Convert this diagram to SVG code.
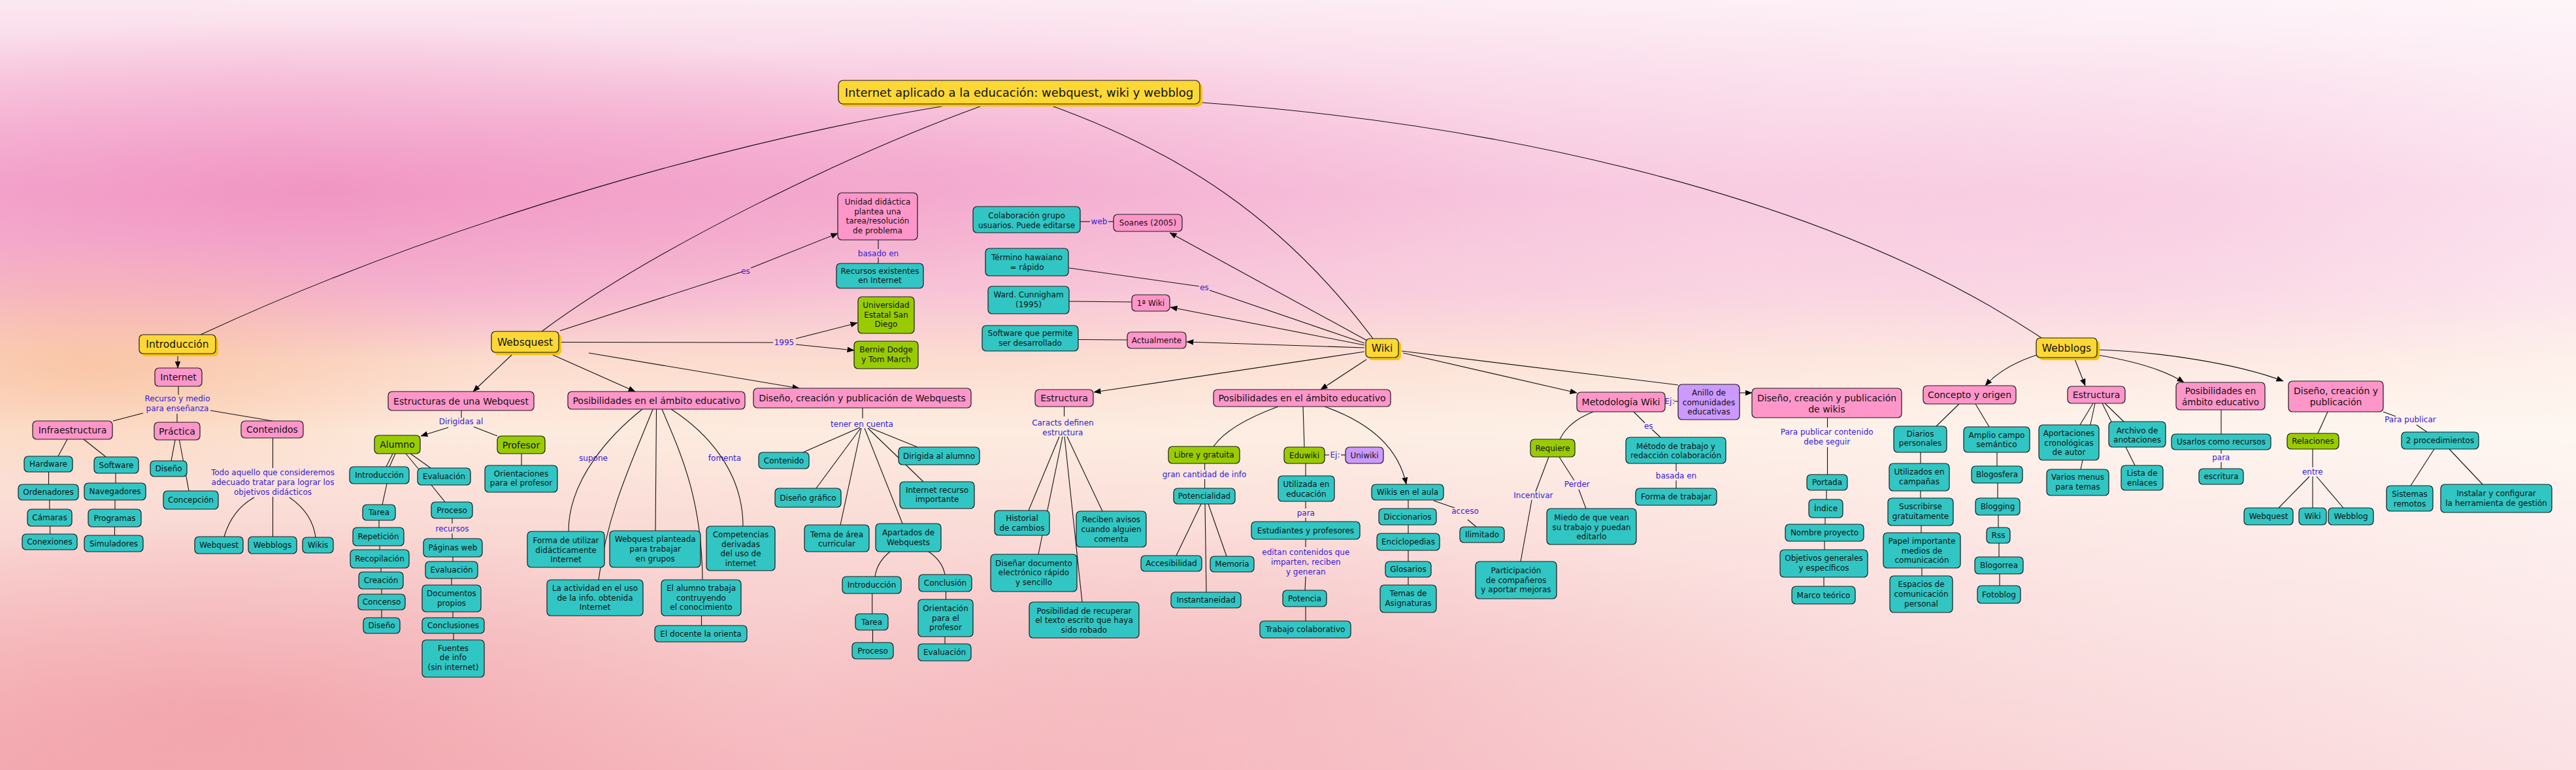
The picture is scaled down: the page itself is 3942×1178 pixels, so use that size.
<svg xmlns="http://www.w3.org/2000/svg" width="3942" height="1178" viewBox="0 0 3942 1178">
<defs>
<linearGradient id="bgv" x1="0" y1="0" x2="0" y2="1">
<stop offset="0" stop-color="#FCE8F1"/>
<stop offset="0.1" stop-color="#F9D0E3"/>
<stop offset="0.25" stop-color="#F5B2D3"/>
<stop offset="0.38" stop-color="#F7BFD3"/>
<stop offset="0.47" stop-color="#FCDACB"/>
<stop offset="0.56" stop-color="#FDEADD"/>
<stop offset="0.72" stop-color="#F9D3D0"/>
<stop offset="1" stop-color="#F5B4BA"/>
</linearGradient>
<linearGradient id="bgh" x1="0" y1="0" x2="1" y2="0">
<stop offset="0" stop-color="#FFFFFF" stop-opacity="0"/>
<stop offset="0.4" stop-color="#FFFFFF" stop-opacity="0.1"/>
<stop offset="1" stop-color="#FFFFFF" stop-opacity="0.6"/>
</linearGradient>
<radialGradient id="pk" cx="0.5" cy="0.5" r="0.5">
<stop offset="0" stop-color="#EE7DB6" stop-opacity="0.6"/>
<stop offset="1" stop-color="#EE7DB6" stop-opacity="0"/>
</radialGradient>
<radialGradient id="pc" cx="0.5" cy="0.5" r="0.5">
<stop offset="0" stop-color="#F8B88E" stop-opacity="0.6"/>
<stop offset="1" stop-color="#F8B88E" stop-opacity="0"/>
</radialGradient>
<radialGradient id="sa" cx="0.5" cy="0.5" r="0.5">
<stop offset="0" stop-color="#EF8C98" stop-opacity="0.5"/>
<stop offset="1" stop-color="#EF8C98" stop-opacity="0"/>
</radialGradient>
<marker id="ah" viewBox="0 0 10 8" refX="9.5" refY="4" markerWidth="11" markerHeight="9" markerUnits="userSpaceOnUse" orient="auto"><path d="M0,0L10,4L0,8z" fill="#000"/></marker>
</defs>
<style>
.nd rect{stroke:#1a1a1a;stroke-width:1.2}
.nd rect.sh{stroke:none;fill:#F7C400}
.y rect{fill:#FDD835}
.p rect{fill:#FF96CA}
.t rect{fill:#31C6C3}
.g rect{fill:#99CC00}
.v rect{fill:#CC99FF}
text{font-family:"DejaVu Sans",Verdana,sans-serif;text-anchor:middle;fill:#111}
.f12{font-size:12px}
.f135{font-size:13.5px}
.f14{font-size:14px}
.f155{font-size:15.5px}
.f18{font-size:18px}
.lb{font-size:12px;fill:#3320D8}
#links path{fill:none;stroke:#111;stroke-width:1.1}
#links path.a{marker-end:url(#ah)}
</style>
<rect x="0" y="0" width="3942" height="1178" fill="url(#bgv)"/>
<ellipse cx="500" cy="290" rx="1100" ry="260" fill="url(#pk)"/>
<ellipse cx="1500" cy="260" rx="900" ry="200" fill="url(#pk)" opacity="0.5"/>
<ellipse cx="3350" cy="330" rx="700" ry="280" fill="url(#pk)" opacity="0.4"/>
<ellipse cx="150" cy="560" rx="600" ry="200" fill="url(#pc)"/>
<ellipse cx="350" cy="1100" rx="900" ry="300" fill="url(#sa)"/>
<ellipse cx="2000" cy="1050" rx="900" ry="250" fill="url(#sa)" opacity="0.6"/>
<rect x="0" y="0" width="3942" height="1178" fill="url(#bgh)"/>

<g id="labels">
<text class="lb"><tspan x="271.5" y="614.3">Recurso y medio</tspan><tspan x="271.5" y="629.3">para enseñanza</tspan></text>
<text class="lb"><tspan x="417.5" y="727.3">Todo aquello que consideremos</tspan><tspan x="417.5" y="742">adecuado tratar para lograr los</tspan><tspan x="417.5" y="756.6">objetivos didácticos</tspan></text>
<text class="lb" x="1141" y="419.3">es</text>
<text class="lb" x="1200" y="528.3">1995</text>
<text class="lb" x="1344" y="392">basado en</text>
<text class="lb" x="705.5" y="649.3">Dirigidas al</text>
<text class="lb" x="692" y="813">recursos</text>
<text class="lb" x="908" y="705.3">supone</text>
<text class="lb" x="1109" y="705.3">fomenta</text>
<text class="lb" x="1319" y="652.6">tener en cuenta</text>
<text class="lb" x="1682" y="343">web</text>
<text class="lb" x="1843" y="444.3">es</text>
<text class="lb"><tspan x="1626.4" y="651.3">Caracts definen</tspan><tspan x="1626.4" y="666">estructura</tspan></text>
<text class="lb" x="1843" y="730">gran cantidad de info</text>
<text class="lb" x="2043" y="700.3">Ej:</text>
<text class="lb" x="1998.3" y="789.3">para</text>
<text class="lb"><tspan x="1998.3" y="849.3">editan contenidos que</tspan><tspan x="1998.3" y="864">imparten, reciben</tspan><tspan x="1998.3" y="878.6">y generan</tspan></text>
<text class="lb" x="2242" y="786">acceso</text>
<text class="lb" x="2555" y="618.3">Ej:</text>
<text class="lb" x="2346.4" y="761.6">Incentivar</text>
<text class="lb" x="2413.3" y="745">Perder</text>
<text class="lb" x="2522.7" y="656">es</text>
<text class="lb" x="2565" y="732">basada en</text>
<text class="lb"><tspan x="2795.7" y="665">Para publicar contenido</tspan><tspan x="2795.7" y="679.6">debe seguir</tspan></text>
<text class="lb" x="3398.8" y="704.3">para</text>
<text class="lb" x="3538.8" y="726">entre</text>
<text class="lb" x="3688.4" y="646">Para publicar</text>
</g>

<g id="links">
<path d="M1452,161 C1150,210 700,330 307,512"/>
<path d="M1505,161 C1300,235 1000,380 829,507"/>
<path d="M1604,160 C1800,230 1960,330 2101,518"/>
<path d="M1840,157 C2300,190 2800,300 3124,517"/>
<path class="a" d="M272,544 L272,563"/>
<path d="M273,591 L273,604"/>
<path d="M219,632 L173,644"/>
<path d="M271,633 L271,646"/>
<path d="M322,628 L417,644"/>
<path d="M103,672 L89,698"/>
<path d="M128,672 L162,699"/>
<path d="M74.5,722 L74.5,741"/>
<path d="M75.8,765 L75.8,779"/>
<path d="M76.6,805 L76.6,817"/>
<path d="M177,724 L177,739"/>
<path d="M176,765 L176,779"/>
<path d="M175.5,806 L175.5,819"/>
<path d="M268,673 L262,705"/>
<path d="M274.4,673 L289,751"/>
<path d="M417.5,670 L417.5,716"/>
<path d="M389,761 Q355,780 343,821"/>
<path d="M417.5,760 L417.5,821"/>
<path d="M443,761 Q478,785 483,822"/>
<path d="M857,506 L1135,416"/>
<path class="a" d="M1149,410 L1282,357"/>
<path d="M855,523.5 L1183,524"/>
<path class="a" d="M1218,518 L1312,494"/>
<path class="a" d="M1218,527 L1307,536"/>
<path d="M1344,367 L1344,381"/>
<path d="M1344,394 L1344,403"/>
<path class="a" d="M783,543 L724,599"/>
<path class="a" d="M846,543 L972,599"/>
<path class="a" d="M901,540 L1223,594"/>
<path d="M706,628 L706,639"/>
<path class="a" d="M686,654 L644,667"/>
<path d="M725,653 L761,667"/>
<path d="M798,694 L798,712"/>
<path d="M601,694 L591,714"/>
<path d="M605,694 L596,714"/>
<path d="M621,694 L640,717"/>
<path d="M628,694 L659,716"/>
<path d="M660,742 L681,768"/>
<path d="M592,740 L585,772"/>
<path d="M580,796 L580,807"/>
<path d="M581,835 L581,841"/>
<path d="M583,869 L583,875"/>
<path d="M584,901 L584,909"/>
<path d="M584,933 L584,945"/>
<path d="M692,793 L692,801"/>
<path d="M692,816 L692,824"/>
<path d="M693,852 L693,859"/>
<path d="M691,885 L691,895"/>
<path d="M693,936 L693,945"/>
<path d="M694,969 L694,979"/>
<path d="M983,626 C940,660 870,730 870,813"/>
<path d="M999,626 C970,700 930,780 916,887"/>
<path d="M1004.5,626 L1003,812"/>
<path d="M1013,626 C1040,690 1074,760 1075,887"/>
<path d="M1027,626 C1080,660 1137,720 1137,805"/>
<path d="M1073.5,942 L1073.5,957"/>
<path d="M1320,624 L1320,640"/>
<path d="M1316,654 L1229,692"/>
<path d="M1317,655 L1249,747"/>
<path d="M1318,655 L1286,803"/>
<path d="M1323,655 L1381,801"/>
<path d="M1330,654 L1404,684"/>
<path d="M1328,655 L1413,737"/>
<path d="M1362,844 Q1342,860 1339,882"/>
<path d="M1421,844 Q1442,858 1446,879"/>
<path d="M1334.7,908 L1334.7,939"/>
<path d="M1335.5,964 L1335.5,983"/>
<path d="M1447.5,905 L1447.5,917"/>
<path d="M1446,974 L1446,985"/>
<path d="M1653,339 L1668,339"/>
<path d="M1696,339 L1704,339"/>
<path class="a" d="M2092,521 L1790,356"/>
<path d="M2088,525 L1851,444"/>
<path d="M1835,438 L1636,410"/>
<path class="a" d="M2088,528 L1791,470"/>
<path d="M1636,461 L1732,462"/>
<path class="a" d="M2088,532 L1816,523"/>
<path d="M1650,519.5 L1725,520"/>
<path class="a" d="M2088,538 L1674,600"/>
<path class="a" d="M2091,550 L2021,596"/>
<path class="a" d="M2147,540 L2413,601"/>
<path d="M2145,537 L2568,589"/>
<path d="M1628.5,622 L1628.5,637"/>
<path d="M1621,668 L1574,781"/>
<path d="M1626,668 L1589,848"/>
<path d="M1629,668 L1656,921"/>
<path d="M1633,668 L1687,782"/>
<path d="M1956,622 Q1880,650 1857,683"/>
<path d="M1843.6,709 L1843.6,719"/>
<path d="M1843.6,733 L1843.6,747"/>
<path d="M1838,771 L1800,850"/>
<path d="M1844,771 L1846,906"/>
<path d="M1849,771 L1877,851"/>
<path d="M1994,622 L1996,684"/>
<path d="M2027,696 L2034,696"/>
<path d="M2052,696 L2059,696"/>
<path d="M1998,709 L1998,728"/>
<path d="M1998,767 L1998,778"/>
<path d="M1998,792 L1998,798"/>
<path d="M1998,825 L1998,837"/>
<path d="M1998,882 L1997,903"/>
<path d="M1998,928 L1998,950"/>
<path class="a" d="M2027,622 Q2135,660 2152,741"/>
<path d="M2155,765 L2155,778"/>
<path d="M2155,803 L2155,816"/>
<path d="M2155,842 L2155,859"/>
<path d="M2155,883 L2155,895"/>
<path d="M2194,766 L2226,777"/>
<path d="M2246,795 L2259,806"/>
<path d="M2562,614 L2568,614"/>
<path class="a" d="M2662,601 L2681,601"/>
<path d="M2438,630 Q2400,645 2387,672"/>
<path d="M2370,699 L2350,752"/>
<path d="M2344,765 L2327,859"/>
<path d="M2386,699 L2409,735"/>
<path d="M2416,749 L2427,778"/>
<path d="M2500,630 L2517,647"/>
<path d="M2528,657 L2541,669"/>
<path d="M2565,709 L2565,721"/>
<path d="M2565,735 L2565,747"/>
<path d="M2796.5,639 L2796.5,654"/>
<path d="M2796.5,684 L2796.5,726"/>
<path d="M2795,750 L2795,764"/>
<path d="M2793,792 L2793,802"/>
<path d="M2792,828 L2792,841"/>
<path d="M2791,883 L2791,897"/>
<path class="a" d="M3117,543 Q3065,560 3038,590"/>
<path class="a" d="M3174,547 L3191,590"/>
<path class="a" d="M3209,543 Q3300,558 3342,585"/>
<path class="a" d="M3209,535 C3300,538 3420,555 3494,583"/>
<path d="M2998,618 L2963,652"/>
<path d="M3023,618 L3044,653"/>
<path d="M2939,692 L2939,709"/>
<path d="M2939,751 L2939,762"/>
<path d="M2940,804 L2940,815"/>
<path d="M2941,869 L2941,881"/>
<path d="M3056,692 L3056,713"/>
<path d="M3057,739 L3057,762"/>
<path d="M3058,788 L3058,807"/>
<path d="M3059,831 L3059,852"/>
<path d="M3060,878 L3060,896"/>
<path d="M3203,617 L3183,650"/>
<path d="M3206,617 L3184,718"/>
<path d="M3217,617 L3231,645"/>
<path d="M3221,617 L3250,645"/>
<path d="M3253,684 L3267,712"/>
<path d="M3399,627 L3399,664"/>
<path d="M3399,688 L3399,694"/>
<path d="M3399,707 L3399,717"/>
<path d="M3562,630 L3547,663"/>
<path d="M3539,687 L3539,715"/>
<path d="M3534,729 L3487,777"/>
<path d="M3539,729 L3539,777"/>
<path d="M3545,729 L3586,777"/>
<path d="M3647,630 L3666,637"/>
<path d="M3698,650 L3714,661"/>
<path d="M3725,687 L3689,743"/>
<path d="M3748,687 L3799,741"/>
</g>

<g id="n-title" class="nd y"><rect class="sh" x="1287" y="127" width="553" height="36" rx="7"/><rect x="1283" y="123" width="553" height="36" rx="7"/><text class="f18" x="1559.5" y="147.5">Internet aplicado a la educación: webquest, wiki y webblog</text></g>
<g id="n-intro" class="nd y"><rect class="sh" x="217" y="516" width="117" height="29" rx="6"/><rect x="213" y="512" width="117" height="29" rx="6"/><text class="f155" x="271.5" y="532">Introducción</text></g>
<g id="n-websquest" class="nd y"><rect class="sh" x="756" y="511" width="103" height="32" rx="6"/><rect x="752" y="507" width="103" height="32" rx="6"/><text class="f155" x="803.5" y="528.5">Websquest</text></g>
<g id="n-wiki" class="nd y"><rect class="sh" x="2094" y="522" width="50" height="29" rx="6"/><rect x="2090" y="518" width="50" height="29" rx="6"/><text class="f155" x="2115" y="538">Wiki</text></g>
<g id="n-webblogs" class="nd y"><rect class="sh" x="3120" y="521" width="93" height="30" rx="6"/><rect x="3116" y="517" width="93" height="30" rx="6"/><text class="f155" x="3162.5" y="537.5">Webblogs</text></g>

<g id="n-internet" class="nd p"><rect x="237" y="563" width="72" height="28" rx="6"/><text class="f14" x="273" y="582">Internet</text></g>
<g id="n-infra" class="nd p"><rect x="50" y="644" width="122" height="28" rx="6"/><text class="f14" x="111" y="663">Infraestructura</text></g>
<g id="n-practica" class="nd p"><rect x="236" y="646" width="70" height="27" rx="6"/><text class="f14" x="271" y="664.5">Práctica</text></g>
<g id="n-contenidos" class="nd p"><rect x="369" y="644" width="95" height="26" rx="6"/><text class="f14" x="416.5" y="662">Contenidos</text></g>
<g id="n-hardware" class="nd t"><rect x="37" y="698" width="74" height="24" rx="6"/><text class="f12" x="74" y="714.3">Hardware</text></g>
<g id="n-software" class="nd t"><rect x="144" y="699" width="68" height="25" rx="6"/><text class="f12" x="178" y="715.8">Software</text></g>
<g id="n-ordenadores" class="nd t"><rect x="28" y="741" width="92" height="24" rx="6"/><text class="f12" x="74" y="757.3">Ordenadores</text></g>
<g id="n-navegadores" class="nd t"><rect x="129" y="739" width="94" height="26" rx="6"/><text class="f12" x="176" y="756.3">Navegadores</text></g>
<g id="n-camaras" class="nd t"><rect x="42" y="779" width="68" height="26" rx="6"/><text class="f12" x="76" y="796.3">Cámaras</text></g>
<g id="n-programas" class="nd t"><rect x="135" y="779" width="81" height="27" rx="6"/><text class="f12" x="175.5" y="796.8">Programas</text></g>
<g id="n-conexiones" class="nd t"><rect x="34" y="817" width="84" height="24" rx="6"/><text class="f12" x="76" y="833.3">Conexiones</text></g>
<g id="n-simuladores" class="nd t"><rect x="129" y="819" width="90" height="25" rx="6"/><text class="f12" x="174" y="835.8">Simuladores</text></g>
<g id="n-diseno1" class="nd t"><rect x="230" y="705" width="56" height="24" rx="6"/><text class="f12" x="258" y="721.3">Diseño</text></g>
<g id="n-concepcion" class="nd t"><rect x="250" y="751" width="84" height="28" rx="6"/><text class="f12" x="292" y="769.3">Concepción</text></g>
<g id="n-webquest1" class="nd t"><rect x="298" y="821" width="74" height="26" rx="6"/><text class="f12" x="335" y="838.3">Webquest</text></g>
<g id="n-webblogs1" class="nd t"><rect x="380" y="821" width="74" height="26" rx="6"/><text class="f12" x="417" y="838.3">Webblogs</text></g>
<g id="n-wikis1" class="nd t"><rect x="463" y="822" width="47" height="24" rx="6"/><text class="f12" x="486.5" y="838.3">Wikis</text></g>

<g id="n-unidad" class="nd p"><rect x="1282" y="295" width="122" height="72" rx="6"/><text class="f12"><tspan x="1343" y="313">Unidad didáctica</tspan><tspan x="1343" y="327.6">plantea una</tspan><tspan x="1343" y="342">tarea/resolución</tspan><tspan x="1343" y="356.6">de problema</tspan></text></g>
<g id="n-recursos" class="nd t"><rect x="1280" y="403" width="133" height="38" rx="6"/><text class="f12"><tspan x="1346.5" y="418.6">Recursos existentes</tspan><tspan x="1346.5" y="433.3">en Internet</tspan></text></g>
<g id="n-universidad" class="nd g"><rect x="1313" y="454" width="86" height="56" rx="6"/><text class="f12"><tspan x="1356" y="471">Universidad</tspan><tspan x="1356" y="485.6">Estatal San</tspan><tspan x="1356" y="500.3">Diego</tspan></text></g>
<g id="n-bernie" class="nd g"><rect x="1307" y="522" width="98" height="42" rx="6"/><text class="f12"><tspan x="1356" y="539.3">Bernie Dodge</tspan><tspan x="1356" y="554">y Tom March</tspan></text></g>
<g id="n-estructuras" class="nd p"><rect x="594" y="599" width="223" height="29" rx="6"/><text class="f14" x="705.5" y="618.5">Estructuras de una Webquest</text></g>
<g id="n-alumno" class="nd g"><rect x="573" y="666" width="70" height="28" rx="6"/><text class="f14" x="608" y="685">Alumno</text></g>
<g id="n-profesor" class="nd g"><rect x="761" y="667" width="73" height="27" rx="6"/><text class="f14" x="797.5" y="685.5">Profesor</text></g>
<g id="n-orientaciones" class="nd t"><rect x="742" y="712" width="111" height="41" rx="6"/><text class="f12"><tspan x="797.5" y="728.6">Orientaciones</tspan><tspan x="797.5" y="743.3">para el profesor</tspan></text></g>
<g id="n-intro2" class="nd t"><rect x="535" y="714" width="91" height="26" rx="6"/><text class="f12" x="580.5" y="731.3">Introducción</text></g>
<g id="n-evaluacion1" class="nd t"><rect x="639" y="716" width="81" height="26" rx="6"/><text class="f12" x="679.5" y="733.3">Evaluación</text></g>
<g id="n-tarea1" class="nd t"><rect x="555" y="772" width="50" height="24" rx="6"/><text class="f12" x="580" y="788.3">Tarea</text></g>
<g id="n-repeticion" class="nd t"><rect x="540" y="807" width="78" height="28" rx="6"/><text class="f12" x="579" y="825.3">Repetición</text></g>
<g id="n-recopilacion" class="nd t"><rect x="536" y="841" width="90" height="28" rx="6"/><text class="f12" x="581" y="859.3">Recopilación</text></g>
<g id="n-creacion" class="nd t"><rect x="549" y="875" width="68" height="26" rx="6"/><text class="f12" x="583" y="892.3">Creación</text></g>
<g id="n-concenso" class="nd t"><rect x="548" y="909" width="72" height="24" rx="6"/><text class="f12" x="584" y="925.3">Concenso</text></g>
<g id="n-diseno2" class="nd t"><rect x="556" y="945" width="56" height="24" rx="6"/><text class="f12" x="584" y="961.3">Diseño</text></g>
<g id="n-proceso1" class="nd t"><rect x="660" y="768" width="63" height="25" rx="6"/><text class="f12" x="691.5" y="784.8">Proceso</text></g>
<g id="n-paginas" class="nd t"><rect x="648" y="824" width="90" height="28" rx="6"/><text class="f12" x="693" y="842.3">Páginas web</text></g>
<g id="n-evaluacion2" class="nd t"><rect x="651" y="859" width="80" height="26" rx="6"/><text class="f12" x="691" y="876.3">Evaluación</text></g>
<g id="n-documentos" class="nd t"><rect x="646" y="895" width="90" height="41" rx="6"/><text class="f12"><tspan x="691" y="912">Documentos</tspan><tspan x="691" y="926.6">propios</tspan></text></g>
<g id="n-conclusiones" class="nd t"><rect x="646" y="945" width="95" height="24" rx="6"/><text class="f12" x="693.5" y="961.3">Conclusiones</text></g>
<g id="n-fuentes" class="nd t"><rect x="646" y="979" width="95" height="57" rx="6"/><text class="f12"><tspan x="693.5" y="996">Fuentes</tspan><tspan x="693.5" y="1010.3">de info</tspan><tspan x="693.5" y="1024.6">(sin internet)</tspan></text></g>

<g id="n-posib1" class="nd p"><rect x="869" y="599" width="271" height="27" rx="6"/><text class="f14" x="1004.5" y="617.5">Posibilidades en el ámbito educativo</text></g>
<g id="n-forma" class="nd t"><rect x="807" y="813" width="118" height="55" rx="6"/><text class="f12"><tspan x="866" y="831">Forma de utilizar</tspan><tspan x="866" y="845.6">didácticamente</tspan><tspan x="866" y="860">Internet</tspan></text></g>
<g id="n-planteada" class="nd t"><rect x="933" y="812" width="139" height="56" rx="6"/><text class="f12"><tspan x="1002.7" y="829.3">Webquest planteada</tspan><tspan x="1002.7" y="844">para trabajar</tspan><tspan x="1002.7" y="858.6">en grupos</tspan></text></g>
<g id="n-competencias" class="nd t"><rect x="1081" y="805" width="105" height="68" rx="6"/><text class="f12"><tspan x="1133.5" y="822">Competencias</tspan><tspan x="1133.5" y="836.6">derivadas</tspan><tspan x="1133.5" y="851">del uso de</tspan><tspan x="1133.5" y="865.6">internet</tspan></text></g>
<g id="n-actividad" class="nd t"><rect x="837" y="887" width="147" height="55" rx="6"/><text class="f12"><tspan x="910.5" y="904.3">La actividad en el uso</tspan><tspan x="910.5" y="919">de la info. obtenida</tspan><tspan x="910.5" y="933.3">Internet</tspan></text></g>
<g id="n-alumnotrab" class="nd t"><rect x="1012" y="887" width="122" height="55" rx="6"/><text class="f12"><tspan x="1073" y="904.3">El alumno trabaja</tspan><tspan x="1073" y="919">contruyendo</tspan><tspan x="1073" y="933.3">el conocimiento</tspan></text></g>
<g id="n-docente" class="nd t"><rect x="1002" y="957" width="141" height="25" rx="6"/><text class="f12" x="1072.5" y="973.8">El docente la orienta</text></g>

<g id="n-disenowq" class="nd p"><rect x="1153" y="594" width="333" height="30" rx="6"/><text class="f14" x="1319.5" y="614">Diseño, creación y publicación de Webquests</text></g>
<g id="n-contenido" class="nd t"><rect x="1161" y="692" width="77" height="25" rx="6"/><text class="f12" x="1199.5" y="708.8">Contenido</text></g>
<g id="n-disgraf" class="nd t"><rect x="1186" y="747" width="101" height="29" rx="6"/><text class="f12" x="1236.5" y="765.8">Diseño gráfico</text></g>
<g id="n-tema" class="nd t"><rect x="1231" y="803" width="99" height="41" rx="6"/><text class="f12"><tspan x="1280.5" y="821.6">Tema de área</tspan><tspan x="1280.5" y="836.3">curricular</tspan></text></g>
<g id="n-dirigida" class="nd t"><rect x="1375" y="684" width="124" height="27" rx="6"/><text class="f12" x="1437" y="701.8">Dirigida al alumno</text></g>
<g id="n-internetrec" class="nd t"><rect x="1377" y="737" width="114" height="41" rx="6"/><text class="f12"><tspan x="1434" y="754">Internet recurso</tspan><tspan x="1434" y="768.3">importante</tspan></text></g>
<g id="n-apartados" class="nd t"><rect x="1340" y="801" width="100" height="43" rx="6"/><text class="f12"><tspan x="1390" y="819.3">Apartados de</tspan><tspan x="1390" y="834">Webquests</tspan></text></g>
<g id="n-intro3" class="nd t"><rect x="1289" y="882" width="90" height="26" rx="6"/><text class="f12" x="1334" y="899.3">Introducción</text></g>
<g id="n-conclusion" class="nd t"><rect x="1406" y="879" width="81" height="26" rx="6"/><text class="f12" x="1446.5" y="896.3">Conclusión</text></g>
<g id="n-tarea2" class="nd t"><rect x="1309" y="939" width="50" height="25" rx="6"/><text class="f12" x="1334" y="955.8">Tarea</text></g>
<g id="n-proceso2" class="nd t"><rect x="1304" y="983" width="63" height="25" rx="6"/><text class="f12" x="1335.5" y="999.8">Proceso</text></g>
<g id="n-orientacion" class="nd t"><rect x="1405" y="917" width="84" height="57" rx="6"/><text class="f12"><tspan x="1447" y="935">Orientación</tspan><tspan x="1447" y="949.6">para el</tspan><tspan x="1447" y="964">profesor</tspan></text></g>
<g id="n-evaluacion3" class="nd t"><rect x="1405" y="985" width="81" height="26" rx="6"/><text class="f12" x="1445.5" y="1002.3">Evaluación</text></g>

<g id="n-colab" class="nd t"><rect x="1489" y="316" width="164" height="40" rx="6"/><text class="f12"><tspan x="1571" y="334.3">Colaboración grupo</tspan><tspan x="1571" y="348.6">usuarios. Puede editarse</tspan></text></g>
<g id="n-soanes" class="nd p"><rect x="1704" y="328" width="105" height="26" rx="6"/><text class="f12" x="1756.5" y="345.3">Soanes (2005)</text></g>
<g id="n-termino" class="nd t"><rect x="1508" y="380" width="127" height="42" rx="6"/><text class="f12"><tspan x="1571.5" y="398.3">Término hawaiano</tspan><tspan x="1571.5" y="412.6">= rápido</tspan></text></g>
<g id="n-ward" class="nd t"><rect x="1512" y="438" width="124" height="42" rx="6"/><text class="f12"><tspan x="1574" y="455.3">Ward. Cunnigham</tspan><tspan x="1574" y="470">(1995)</tspan></text></g>
<g id="n-primera" class="nd p"><rect x="1732" y="451" width="58" height="25" rx="6"/><text class="f12" x="1761" y="467.8">1ª Wiki</text></g>
<g id="n-software2" class="nd t"><rect x="1503" y="498" width="147" height="39" rx="6"/><text class="f12"><tspan x="1576.5" y="514">Software que permite</tspan><tspan x="1576.5" y="528.6">ser desarrollado</tspan></text></g>
<g id="n-actualmente" class="nd p"><rect x="1725" y="508" width="90" height="25" rx="6"/><text class="f12" x="1770" y="524.8">Actualmente</text></g>

<g id="n-estructura2" class="nd p"><rect x="1584" y="596" width="89" height="26" rx="6"/><text class="f14" x="1628.5" y="614">Estructura</text></g>
<g id="n-historial" class="nd t"><rect x="1522" y="781" width="84" height="38" rx="6"/><text class="f12"><tspan x="1564" y="797.3">Historial</tspan><tspan x="1564" y="812">de cambios</tspan></text></g>
<g id="n-reciben" class="nd t"><rect x="1647" y="782" width="107" height="55" rx="6"/><text class="f12"><tspan x="1700.5" y="799.3">Reciben avisos</tspan><tspan x="1700.5" y="814">cuando alguien</tspan><tspan x="1700.5" y="828.6">comenta</tspan></text></g>
<g id="n-disenar" class="nd t"><rect x="1516" y="848" width="132" height="57" rx="6"/><text class="f12"><tspan x="1582" y="865.6">Diseñar documento</tspan><tspan x="1582" y="880.3">electrónico rápido</tspan><tspan x="1582" y="894.6">y sencillo</tspan></text></g>
<g id="n-posibilidad" class="nd t"><rect x="1575" y="921" width="168" height="55" rx="6"/><text class="f12"><tspan x="1659" y="938.6">Posibilidad de recuperar</tspan><tspan x="1659" y="953">el texto escrito que haya</tspan><tspan x="1659" y="967.6">sido robado</tspan></text></g>

<g id="n-posib2" class="nd p"><rect x="1857" y="596" width="271" height="26" rx="6"/><text class="f14" x="1992.5" y="614">Posibilidades en el ámbito educativo</text></g>
<g id="n-libre" class="nd g"><rect x="1788" y="683" width="109" height="26" rx="6"/><text class="f12" x="1842.5" y="700.3">Libre y gratuita</text></g>
<g id="n-potencialidad" class="nd t"><rect x="1796" y="747" width="94" height="24" rx="6"/><text class="f12" x="1843" y="763.3">Potencialidad</text></g>
<g id="n-accesibilidad" class="nd t"><rect x="1746" y="850" width="93" height="24" rx="6"/><text class="f12" x="1792.5" y="866.3">Accesibilidad</text></g>
<g id="n-memoria" class="nd t"><rect x="1852" y="851" width="67" height="24" rx="6"/><text class="f12" x="1885.5" y="867.3">Memoria</text></g>
<g id="n-instant" class="nd t"><rect x="1792" y="906" width="107" height="24" rx="6"/><text class="f12" x="1845.5" y="922.3">Instantaneidad</text></g>
<g id="n-eduwiki" class="nd g"><rect x="1965" y="684" width="62" height="25" rx="6"/><text class="f12" x="1996" y="700.8">Eduwiki</text></g>
<g id="n-uniwiki" class="nd v"><rect x="2059" y="684" width="58" height="25" rx="6"/><text class="f12" x="2088" y="700.8">Uniwiki</text></g>
<g id="n-utilizada" class="nd t"><rect x="1956" y="728" width="86" height="39" rx="6"/><text class="f12"><tspan x="1999" y="745.3">Utilizada en</tspan><tspan x="1999" y="760">educación</tspan></text></g>
<g id="n-estudiantes" class="nd t"><rect x="1915" y="798" width="166" height="27" rx="6"/><text class="f12" x="1998" y="815.8">Estudiantes y profesores</text></g>
<g id="n-potencia" class="nd t"><rect x="1963" y="903" width="67" height="25" rx="6"/><text class="f12" x="1996.5" y="919.8">Potencia</text></g>
<g id="n-trabajo" class="nd t"><rect x="1928" y="950" width="139" height="26" rx="6"/><text class="f12" x="1997.5" y="967.3">Trabajo colaborativo</text></g>
<g id="n-wikisaula" class="nd t"><rect x="2099" y="741" width="110" height="24" rx="6"/><text class="f12" x="2154" y="757.3">Wikis en el aula</text></g>
<g id="n-diccionarios" class="nd t"><rect x="2110" y="778" width="88" height="25" rx="6"/><text class="f12" x="2154" y="794.8">Diccionarios</text></g>
<g id="n-enciclopedias" class="nd t"><rect x="2107" y="816" width="96" height="26" rx="6"/><text class="f12" x="2155" y="833.3">Enciclopedias</text></g>
<g id="n-glosarios" class="nd t"><rect x="2120" y="859" width="70" height="24" rx="6"/><text class="f12" x="2155" y="875.3">Glosarios</text></g>
<g id="n-temas" class="nd t"><rect x="2112" y="895" width="86" height="42" rx="6"/><text class="f12"><tspan x="2155" y="912">Temas de</tspan><tspan x="2155" y="926.6">Asignaturas</tspan></text></g>
<g id="n-ilimitado" class="nd t"><rect x="2234" y="806" width="68" height="24" rx="6"/><text class="f12" x="2268" y="822.3">Ilimitado</text></g>

<g id="n-metod" class="nd p"><rect x="2413" y="600" width="135" height="30" rx="6"/><text class="f14" x="2480.5" y="620">Metodología Wiki</text></g>
<g id="n-anillo" class="nd v"><rect x="2568" y="588" width="94" height="54" rx="6"/><text class="f12"><tspan x="2615" y="605.3">Anillo de</tspan><tspan x="2615" y="620">comunidades</tspan><tspan x="2615" y="634.3">educativas</tspan></text></g>
<g id="n-disenowiki" class="nd p"><rect x="2681" y="594" width="229" height="45" rx="6"/><text class="f14"><tspan x="2795.5" y="614.3">Diseño, creación y publicación</tspan><tspan x="2795.5" y="631">de wikis</tspan></text></g>
<g id="n-requiere" class="nd g"><rect x="2342" y="672" width="68" height="27" rx="6"/><text class="f12" x="2376" y="689.8">Requiere</text></g>
<g id="n-participacion" class="nd t"><rect x="2258" y="859" width="124" height="57" rx="6"/><text class="f12"><tspan x="2320" y="877">Participación</tspan><tspan x="2320" y="891.6">de compañeros</tspan><tspan x="2320" y="906.3">y aportar mejoras</tspan></text></g>
<g id="n-miedo" class="nd t"><rect x="2367" y="778" width="137" height="55" rx="6"/><text class="f12"><tspan x="2435.5" y="796">Miedo de que vean</tspan><tspan x="2435.5" y="810.6">su trabajo y puedan</tspan><tspan x="2435.5" y="825.3">editarlo</tspan></text></g>
<g id="n-metodo" class="nd t"><rect x="2488" y="669" width="153" height="40" rx="6"/><text class="f12"><tspan x="2564.5" y="687">Método de trabajo y</tspan><tspan x="2564.5" y="701.3">redacción colaboración</tspan></text></g>
<g id="n-forma2" class="nd t"><rect x="2503" y="747" width="124" height="26" rx="6"/><text class="f12" x="2565" y="764.3">Forma de trabajar</text></g>
<g id="n-portada" class="nd t"><rect x="2765" y="726" width="62" height="24" rx="6"/><text class="f12" x="2796" y="742.3">Portada</text></g>
<g id="n-indice" class="nd t"><rect x="2768" y="764" width="52" height="28" rx="6"/><text class="f12" x="2794" y="782.3">Índice</text></g>
<g id="n-nombre" class="nd t"><rect x="2732" y="802" width="120" height="26" rx="6"/><text class="f12" x="2792" y="819.3">Nombre proyecto</text></g>
<g id="n-objetivos" class="nd t"><rect x="2724" y="841" width="134" height="42" rx="6"/><text class="f12"><tspan x="2791" y="858.3">Objetivos generales</tspan><tspan x="2791" y="873">y específicos</tspan></text></g>
<g id="n-marco" class="nd t"><rect x="2742" y="897" width="97" height="27" rx="6"/><text class="f12" x="2790.5" y="914.8">Marco teórico</text></g>

<g id="n-concepto" class="nd p"><rect x="2943" y="590" width="142" height="28" rx="6"/><text class="f14" x="3014" y="609">Concepto y origen</text></g>
<g id="n-diarios" class="nd t"><rect x="2898" y="652" width="81" height="40" rx="6"/><text class="f12"><tspan x="2938.5" y="668">Diarios</tspan><tspan x="2938.5" y="682.3">personales</tspan></text></g>
<g id="n-utilizados" class="nd t"><rect x="2891" y="709" width="92" height="42" rx="6"/><text class="f12"><tspan x="2937" y="726.3">Utilizados en</tspan><tspan x="2937" y="741">campañas</tspan></text></g>
<g id="n-suscribirse" class="nd t"><rect x="2889" y="762" width="100" height="42" rx="6"/><text class="f12"><tspan x="2939" y="779.3">Suscribirse</tspan><tspan x="2939" y="793.6">gratuitamente</tspan></text></g>
<g id="n-papel" class="nd t"><rect x="2882" y="815" width="118" height="54" rx="6"/><text class="f12"><tspan x="2941" y="832">Papel importante</tspan><tspan x="2941" y="846.6">medios de</tspan><tspan x="2941" y="861.3">comunicación</tspan></text></g>
<g id="n-espacios" class="nd t"><rect x="2892" y="881" width="96" height="56" rx="6"/><text class="f12"><tspan x="2940" y="898.3">Espacios de</tspan><tspan x="2940" y="913">comunicación</tspan><tspan x="2940" y="927.6">personal</tspan></text></g>
<g id="n-amplio" class="nd t"><rect x="3005" y="653" width="101" height="39" rx="6"/><text class="f12"><tspan x="3055.5" y="669.6">Amplio campo</tspan><tspan x="3055.5" y="684">semántico</tspan></text></g>
<g id="n-blogosfera" class="nd t"><rect x="3017" y="713" width="78" height="26" rx="6"/><text class="f12" x="3056" y="730.3">Blogosfera</text></g>
<g id="n-blogging" class="nd t"><rect x="3023" y="762" width="68" height="26" rx="6"/><text class="f12" x="3057" y="779.3">Blogging</text></g>
<g id="n-rss" class="nd t"><rect x="3040" y="807" width="36" height="24" rx="6"/><text class="f12" x="3058" y="823.3">Rss</text></g>
<g id="n-blogorrea" class="nd t"><rect x="3022" y="852" width="74" height="26" rx="6"/><text class="f12" x="3059" y="869.3">Blogorrea</text></g>
<g id="n-fotoblog" class="nd t"><rect x="3026" y="896" width="66" height="27" rx="6"/><text class="f12" x="3059" y="913.8">Fotoblog</text></g>

<g id="n-estructura3" class="nd p"><rect x="3164" y="591" width="88" height="26" rx="6"/><text class="f14" x="3208" y="609">Estructura</text></g>
<g id="n-aportaciones" class="nd t"><rect x="3120" y="650" width="92" height="54" rx="6"/><text class="f12"><tspan x="3166" y="667">Aportaciones</tspan><tspan x="3166" y="681.6">cronológicas</tspan><tspan x="3166" y="696">de autor</tspan></text></g>
<g id="n-varios" class="nd t"><rect x="3132" y="718" width="95" height="40" rx="6"/><text class="f12"><tspan x="3179.5" y="734.3">Varios menus</tspan><tspan x="3179.5" y="748.6">para temas</tspan></text></g>
<g id="n-archivo" class="nd t"><rect x="3227" y="645" width="87" height="39" rx="6"/><text class="f12"><tspan x="3270.5" y="662.6">Archivo de</tspan><tspan x="3270.5" y="677">anotaciones</tspan></text></g>
<g id="n-lista" class="nd t"><rect x="3246" y="712" width="64" height="38" rx="6"/><text class="f12"><tspan x="3278" y="728.3">Lista de</tspan><tspan x="3278" y="743">enlaces</tspan></text></g>

<g id="n-posib3" class="nd p"><rect x="3330" y="585" width="136" height="42" rx="6"/><text class="f135"><tspan x="3398" y="603">Posibilidades en</tspan><tspan x="3398" y="619.7">ámbito educativo</tspan></text></g>
<g id="n-usarlos" class="nd t"><rect x="3323" y="664" width="152" height="24" rx="6"/><text class="f12" x="3399" y="680.3">Usarlos como recursos</text></g>
<g id="n-escritura" class="nd t"><rect x="3365" y="717" width="68" height="24" rx="6"/><text class="f12" x="3399" y="733.3">escritura</text></g>
<g id="n-diseno3" class="nd p"><rect x="3502" y="583" width="145" height="47" rx="6"/><text class="f14"><tspan x="3574.5" y="603.3">Diseño, creación y</tspan><tspan x="3574.5" y="620">publicación</tspan></text></g>
<g id="n-relaciones" class="nd g"><rect x="3500" y="663" width="79" height="24" rx="6"/><text class="f12" x="3539.5" y="679.3">Relaciones</text></g>
<g id="n-webquest3" class="nd t"><rect x="3434" y="777" width="75" height="26" rx="6"/><text class="f12" x="3471.5" y="794.3">Webquest</text></g>
<g id="n-wiki3" class="nd t"><rect x="3518" y="777" width="42" height="26" rx="6"/><text class="f12" x="3539" y="794.3">Wiki</text></g>
<g id="n-webblog3" class="nd t"><rect x="3563" y="777" width="69" height="26" rx="6"/><text class="f12" x="3597.5" y="794.3">Webblog</text></g>
<g id="n-procedimientos" class="nd t"><rect x="3675" y="661" width="118" height="26" rx="6"/><text class="f12" x="3734" y="678.3">2 procedimientos</text></g>
<g id="n-sistemas" class="nd t"><rect x="3652" y="743" width="71" height="39" rx="6"/><text class="f12"><tspan x="3687.5" y="760">Sistemas</tspan><tspan x="3687.5" y="774.6">remotos</tspan></text></g>
<g id="n-instalar" class="nd t"><rect x="3735" y="741" width="170" height="43" rx="6"/><text class="f12"><tspan x="3820" y="759.3">Instalar y configurar</tspan><tspan x="3820" y="774">la herramienta de gestión</tspan></text></g>
</svg>
